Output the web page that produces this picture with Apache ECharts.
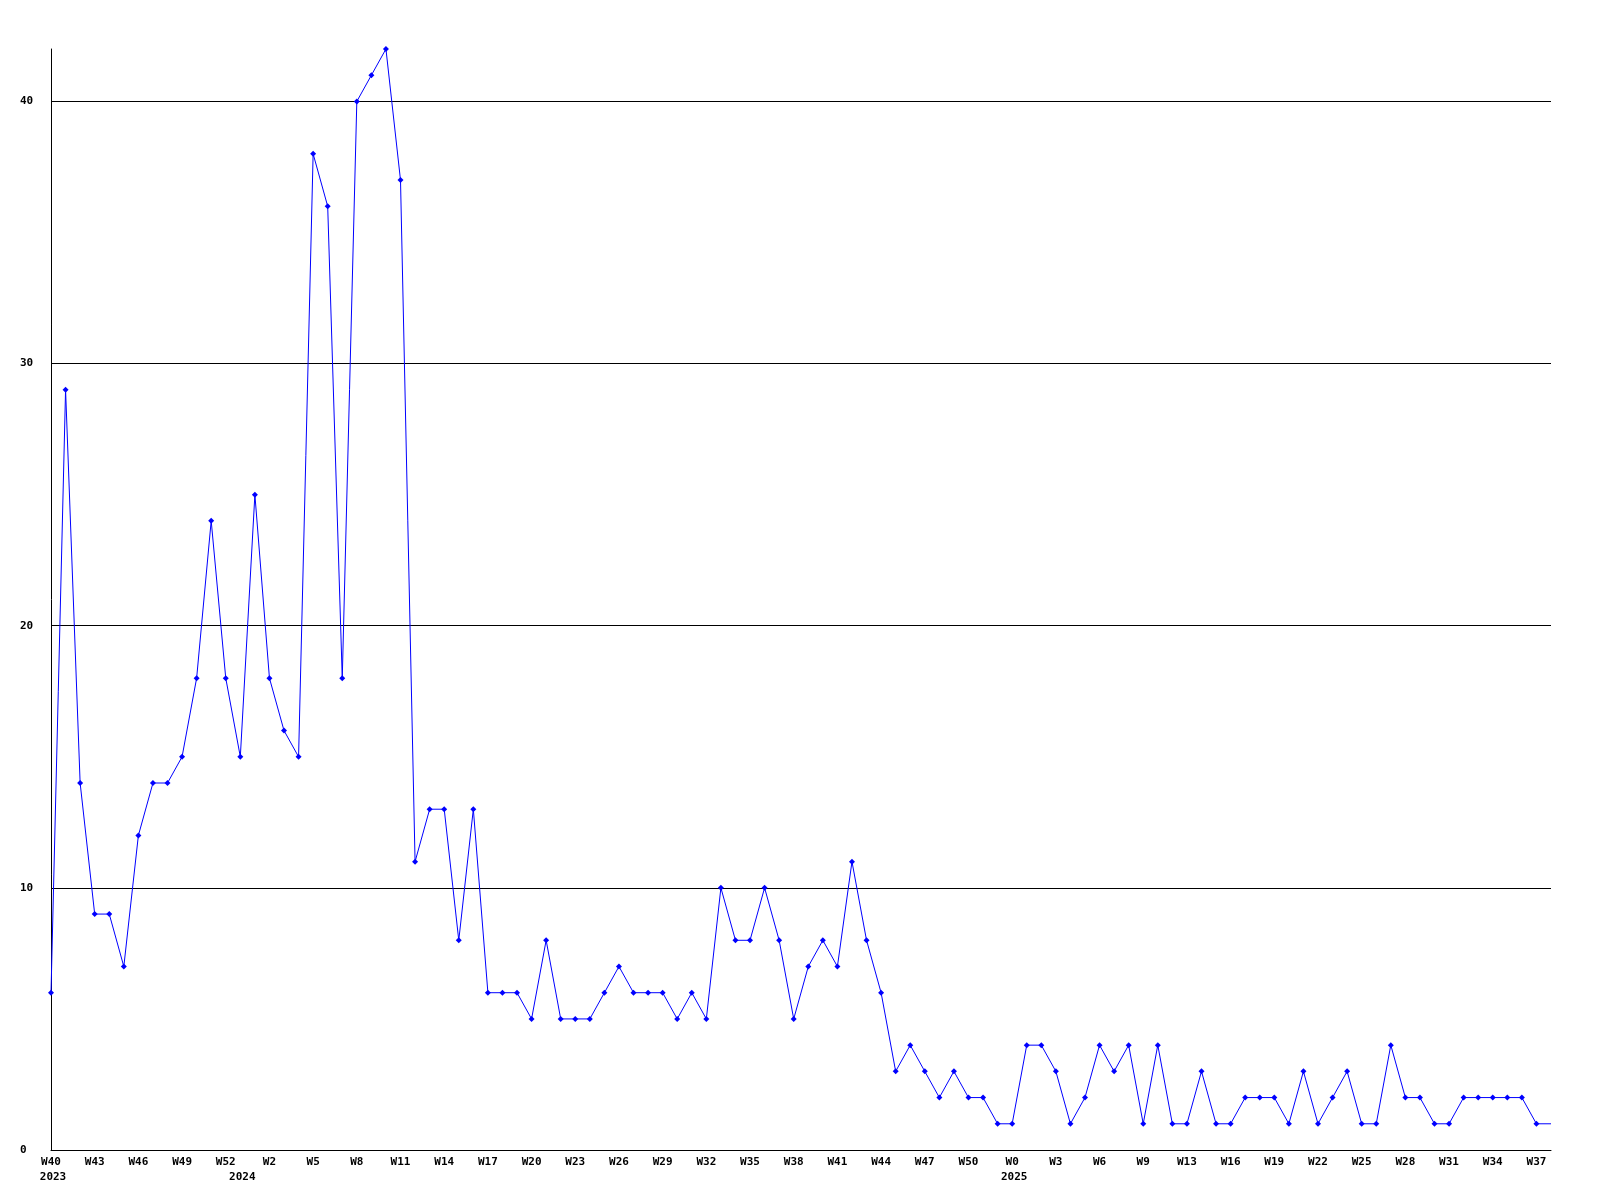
<!DOCTYPE html>
<html>
<head>
<meta charset="utf-8">
<script src="https://cdn.jsdelivr.net/npm/echarts@6/dist/echarts.min.js"></script>
<style>
html,body{margin:0;padding:0;background:#fff;}
#chart{width:1600px;height:1200px;}
</style>
</head>
<body>
<div id="chart"></div>
<script>
// Category labels (week numbers), in order
const weeks = [
  'W40','W41','W42','W43','W44','W45','W46','W47','W48','W49','W50','W51','W52',
  'W0','W1','W2','W3','W4','W5','W6','W7','W8','W9','W10','W11','W12','W13','W14','W15','W16','W17','W18','W19','W20',
  'W21','W22','W23','W24','W25','W26','W27','W28','W29','W30','W31','W32','W33','W34','W35','W36','W37','W38','W39','W40',
  'W41','W42','W43','W44','W45','W46','W47','W48','W49','W50','W51','W52',
  'W0','W1','W2','W3','W4','W5','W6','W7','W8','W9','W10','W11',
  'W13','W14','W15','W16','W17','W18','W19','W20','W21','W22','W23','W24','W25','W26','W27','W28','W29','W30',
  'W31','W32','W33','W34','W35','W36','W37','W38'
];
// Year label shown under the first week of each year
const yearMarks = [
  '2023','','','','','','','','','','','','',
  '2024','','','','','','','','','','','','','','','','','','','','',
  '','','','','','','','','','','','','','','','','','','','',
  '','','','','','','','','','','','',
  '2025','','','','','','','','','','','',
  '','','','','','','','','','','','','','','','','','',
  '','','','','','','',''
];
// Weekly values
const values = [
  6,29,14,9,9,7,12,14,14,15,18,24,18,
  15,25,18,16,15,38,36,18,40,41,42,37,11,13,13,8,13,6,6,6,5,
  8,5,5,5,6,7,6,6,6,5,6,5,10,8,8,10,8,5,7,8,
  7,11,8,6,3,4,3,2,3,2,2,1,
  1,4,4,3,1,2,4,3,4,1,4,1,
  1,3,1,1,2,2,2,1,3,1,2,3,1,1,4,2,2,1,
  1,2,2,2,2,2,1,1
];
const yTicks = [0,10,20,30,40];

const font = '"DejaVu Sans Mono", "Liberation Mono", monospace';
const chart = echarts.init(document.getElementById('chart'), null, {renderer:'canvas'});
chart.setOption({
  animation: false,
  backgroundColor: '#ffffff',
  grid: {left: 51, right: 49, top: 49, bottom: 50, containLabel: false},
  xAxis: [
    {
      type: 'category',
      data: weeks,
      boundaryGap: false,
      axisLine: {show: true, lineStyle: {color: '#000', width: 1}},
      axisTick: {show: false},
      splitLine: {show: false},
      axisLabel: {
        interval: function (i) { return i % 3 === 0; },
        margin: 7,
        color: '#000',
        fontFamily: font,
        fontWeight: 'bold',
        fontSize: 11
      }
    },
    {
      type: 'category',
      data: yearMarks,
      position: 'bottom',
      boundaryGap: false,
      axisLine: {show: false},
      axisTick: {show: false},
      splitLine: {show: false},
      axisLabel: {
        interval: 0,
        margin: 22,
        padding: [0, 0, 0, 4],
        color: '#000',
        fontFamily: font,
        fontWeight: 'bold',
        fontSize: 11
      }
    }
  ],
  yAxis: {
    type: 'value',
    min: 0,
    max: 42,
    interval: 10,
    axisLine: {show: true, lineStyle: {color: '#000', width: 1}},
    axisTick: {show: false},
    splitLine: {show: true, showMaxLine: false, lineStyle: {color: '#000', width: 1}},
    axisLabel: {
      align: 'left',
      margin: 31,
      color: '#000',
      fontFamily: font,
      fontWeight: 'bold',
      fontSize: 11,
      showMaxLabel: false,
      formatter: function (v) { return yTicks.indexOf(v) >= 0 ? String(v) : ''; }
    }
  },
  series: [{
    type: 'line',
    data: values,
    xAxisIndex: 0,
    symbol: function (v, p) { return p.dataIndex === values.length - 1 ? 'none' : 'diamond'; },
    symbolSize: 6,
    showAllSymbol: true,
    lineStyle: {color: '#0000ff', width: 1},
    itemStyle: {color: '#0000ff'},
    clip: false
  }]
});
</script>
</body>
</html>
